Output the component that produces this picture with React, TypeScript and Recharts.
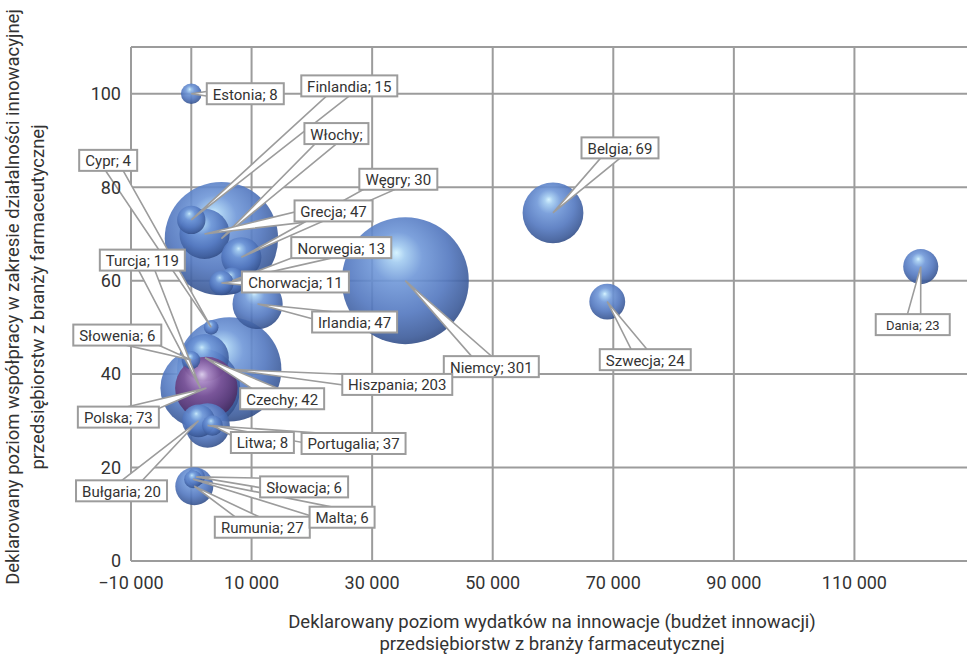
import { CartesianGrid, Scatter, ScatterChart, XAxis, YAxis, ZAxis } from "recharts";

const FONT = "Roboto, 'DejaVu Sans Condensed', sans-serif";
const GRID = "#9c9c9c";
const INK = "#333333";

// countries in drawing order (later bubbles sit on top)
const countries = [
  "Niemcy", "Włochy", "Hiszpania", "Turcja", "Belgia", "Czechy", "Polska", "Grecja",
  "Irlandia", "Portugalia", "Węgry", "Rumunia", "Szwecja", "Dania", "Bułgaria", "Finlandia",
  "Norwegia", "Chorwacja", "Estonia", "Litwa", "Słowenia", "Słowacja", "Malta", "Cypr",
];
// innovation budget
const budget = [
  35500, 5000, 6300, 1500, 60000, 2300, 2500, 2200,
  11000, 2700, 8300, 500, 69000, 121000, 1200, 0,
  6800, 5000, 0, 3500, 0, 800, 300, 3300,
];
// declared level of cooperation
const cooperation = [
  60, 69, 41, 37, 74.5, 43.5, 37, 70,
  55, 29, 65, 16, 55.5, 63, 30, 73,
  60, 59.5, 100, 29, 43, 18, 17.5, 50,
];
// number of firms (bubble size)
const firms = [
  301, 240, 203, 119, 69, 42, 73, 47,
  47, 37, 30, 27, 24, 23, 20, 15,
  13, 11, 8, 8, 6, 6, 6, 4,
];
// callouts printed without the count
const noCountLabel = ["Włochy"];
const highlighted = "Polska";

const xTicks = [-10000, 0, 10000, 30000, 50000, 70000, 90000, 110000, 130000];
const xTickLabels = [-10000, 10000, 30000, 50000, 70000, 90000, 110000];
const yTicks = [0, 20, 40, 60, 80, 100];

const xTitle = ["Deklarowany poziom wydatków na innowacje (budżet innowacji)", "przedsiębiorstw z branży farmaceutycznej"];
const yTitle = ["Deklarowany poziom współpracy w zakresie działalności innowacyjnej", "przedsiębiorstw  z branży farmaceutycznej"];

const rows = countries.map((name, i) => ({ name, x: budget[i], y: cooperation[i], z: firms[i] }));

// bubble radius = K * sqrt(firms)
const K = 3.66;
const maxFirms = Math.max(...firms);

// callout box centre, relative to the bubble centre
const calloutOffset: Record<string, [number, number]> = {
  Niemcy: [86, 86],
  Włochy: [115, -105],
  Hiszpania: [168, 15],
  Turcja: [-58, -128],
  Belgia: [67, -65],
  Czechy: [77, 41],
  Polska: [-88, 29],
  Grecja: [129, -23],
  Irlandia: [97, 18],
  Portugalia: [146, 18],
  Węgry: [157, -78],
  Rumunia: [68, 41],
  Szwecja: [38, 58],
  Dania: [-8, 58],
  Bułgaria: [-77, 70],
  Finlandia: [158, -134],
  Norwegia: [109, -33],
  Chorwacja: [74, -1],
  Estonia: [54, 0],
  Litwa: [50, 17],
  Słowenia: [-74, -25],
  Słowacja: [108, 10],
  Malta: [149, 38],
  Cypr: [-103, -167],
};
const calloutFontSize: Record<string, number> = { Dania: 13 };
const calloutPad: Record<string, number> = { Dania: 20 };

let measureCtx: CanvasRenderingContext2D | null = null;
function measure(text: string, size: number) {
  if (!measureCtx) measureCtx = document.createElement("canvas").getContext("2d");
  if (!measureCtx) return text.length * size * 0.45;
  measureCtx.font = `${size}px ${FONT}`;
  return measureCtx.measureText(text).width;
}

function labelText(d: { name: string; z: number }) {
  return noCountLabel.includes(d.name) ? `${d.name};` : `${d.name}; ${d.z}`;
}

function formatX(v: number) {
  if (!xTickLabels.includes(v)) return "";
  const s = Math.abs(v).toString().replace(/\B(?=(\d{3})+(?!\d))/g, " ");
  return v < 0 ? `−${s}` : s;
}

function Bubble(props: any) {
  const { cx, cy, width, payload } = props;
  const fill = payload.name === highlighted ? "url(#sphereViolet)" : "url(#sphereBlue)";
  return <circle cx={cx} cy={cy} r={width / 2} fill={fill} fillOpacity={0.9} />;
}

function Wedge(props: any) {
  const { cx, cy, payload } = props;
  const [dx, dy] = calloutOffset[payload.name];
  const len = Math.hypot(dx, dy) || 1;
  const nx = (-dy / len) * 8;
  const ny = (dx / len) * 8;
  const bx = cx + dx;
  const by = cy + dy;
  return (
    <polygon
      points={`${cx},${cy} ${bx + nx},${by + ny} ${bx - nx},${by - ny}`}
      fill="#fff"
      stroke={GRID}
      strokeWidth={1.6}
    />
  );
}

function CalloutBox(props: any) {
  const { cx, cy, payload } = props;
  const [dx, dy] = calloutOffset[payload.name];
  const size = calloutFontSize[payload.name] ?? 15;
  const text = labelText(payload);
  const w = Math.round(measure(text, size) + (calloutPad[payload.name] ?? 12));
  const h = 21;
  const bx = cx + dx;
  const by = cy + dy;
  return (
    <g>
      <rect x={bx - w / 2} y={by - h / 2} width={w} height={h} fill="#fff" stroke={GRID} strokeWidth={2} />
      <text x={bx} y={by + 1} textAnchor="middle" dominantBaseline="central" fontSize={size} fill={INK} fontFamily={FONT}>
        {text}
      </text>
    </g>
  );
}

function XTitle(props: any) {
  const { viewBox } = props;
  const x = viewBox.x + 421;
  return (
    <text textAnchor="middle" fontSize={18.5} fill={INK} fontFamily={FONT}>
      <tspan x={x} y={628}>{xTitle[0]}</tspan>
      <tspan x={x} y={650}>{xTitle[1]}</tspan>
    </text>
  );
}

function YTitle() {
  return (
    <g fontSize={18.5} fill={INK} fontFamily={FONT} textAnchor="middle" style={{ whiteSpace: "pre" }}>
      <text transform="translate(19,297) rotate(-90)">{yTitle[0]}</text>
      <text transform="translate(44,297) rotate(-90)">{yTitle[1]}</text>
    </g>
  );
}

export default function App() {
  return (
    <div style={{ width: 967, height: 656, overflow: "hidden", background: "#fff", fontFamily: FONT }}>
      <style>{"body{margin:0;overflow:hidden}"}</style>
      <ScatterChart width={975} height={656} margin={{ top: 47, right: 0, bottom: 0, left: 0 }}>
        <defs>
          <radialGradient id="sphereBlue" cx="0.45" cy="0.4" r="0.66" fx="0.43" fy="0.28">
            <stop offset="0" stopColor="#d2f2ff" />
            <stop offset="0.1" stopColor="#a2cbf0" />
            <stop offset="0.3" stopColor="#6f97d8" />
            <stop offset="0.62" stopColor="#5277bf" />
            <stop offset="0.86" stopColor="#3c5b9a" />
            <stop offset="1" stopColor="#2a4276" />
          </radialGradient>
          <radialGradient id="sphereViolet" cx="0.45" cy="0.4" r="0.66" fx="0.43" fy="0.28">
            <stop offset="0" stopColor="#e9d6f0" />
            <stop offset="0.15" stopColor="#b38cc6" />
            <stop offset="0.45" stopColor="#7c5094" />
            <stop offset="0.75" stopColor="#5e3a78" />
            <stop offset="1" stopColor="#3c2454" />
          </radialGradient>
        </defs>
        <CartesianGrid stroke={GRID} strokeWidth={2} />
        <XAxis
          type="number"
          dataKey="x"
          domain={[-10000, 130000]}
          ticks={xTicks}
          interval={0}
          tickFormatter={formatX}
          tick={{ fontSize: 18, fill: INK, fontFamily: FONT }}
          tickLine={false}
          tickSize={0}
          tickMargin={15}
          axisLine={{ stroke: GRID, strokeWidth: 2 }}
          height={95}
          label={{ content: XTitle }}
        />
        <YAxis
          type="number"
          dataKey="y"
          domain={[0, 110]}
          ticks={yTicks}
          interval={0}
          tick={{ fontSize: 18, fill: INK, fontFamily: FONT }}
          tickLine={false}
          tickSize={0}
          tickMargin={10}
          axisLine={{ stroke: GRID, strokeWidth: 2 }}
          width={131}
          label={{ content: YTitle }}
        />
        <ZAxis type="number" dataKey="z" domain={[0, maxFirms]} range={[0, Math.PI * K * K * maxFirms]} />
        <Scatter data={rows} shape={Bubble} isAnimationActive={false} />
        <Scatter data={rows} shape={Wedge} isAnimationActive={false} />
        <Scatter data={rows} shape={CalloutBox} isAnimationActive={false} />
      </ScatterChart>
    </div>
  );
}
